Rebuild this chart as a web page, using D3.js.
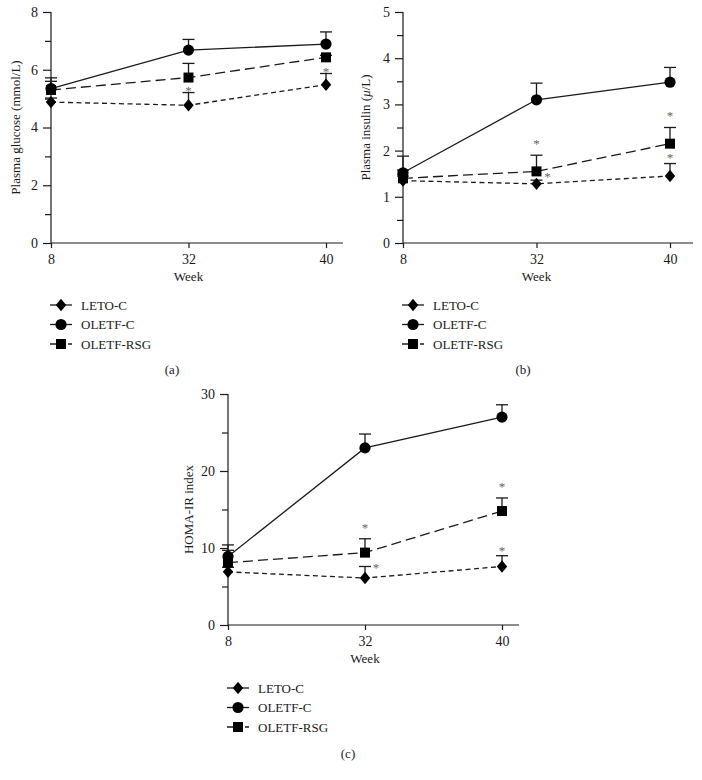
<!DOCTYPE html>
<html>
<head>
<meta charset="utf-8">
<script src="https://cdn.jsdelivr.net/npm/d3@7"></script>
<style>
  html, body { margin: 0; padding: 0; background: #fff; }
  svg { display: block; }
  text { font-family: "Liberation Serif", "Times New Roman", serif; fill: #1a1a1a; }
</style>
</head>
<body>
<svg id="chart" width="702" height="780"></svg>
<script>
// ---------------- DATA ----------------
const weeks = ["8", "32", "40"];
const seriesNames = ["LETO-C", "OLETF-C", "OLETF-RSG"];

// (a) Plasma glucose (mmol/L)
const glucoseLETO  = [4.88, 4.77, 5.48];
const glucoseOLETF = [5.35, 6.68, 6.89];
const glucoseRSG   = [5.30, 5.73, 6.43];
const glucoseLETOErr  = [0.14, 0.44, 0.39];
const glucoseOLETFErr = [0.37, 0.37, 0.42];
const glucoseRSGErr   = [0.30, 0.49, 0.07];
const glucoseStars = [
  { week: "32", value: 5.32, side: "above" },
  { week: "40", value: 5.99, side: "above" }
];

// (b) Plasma insulin (μ/L)
const insulinLETO  = [1.35, 1.28, 1.45];
const insulinOLETF = [1.52, 3.10, 3.48];
const insulinRSG   = [1.40, 1.55, 2.15];
const insulinLETOErr  = [0.10, 0.08, 0.27];
const insulinOLETFErr = [0.36, 0.36, 0.32];
const insulinRSGErr   = [0.18, 0.35, 0.35];
const insulinStars = [
  { week: "32", value: 2.19, side: "above" },
  { week: "32", value: 1.47, side: "right" },
  { week: "40", value: 2.79, side: "above" },
  { week: "40", value: 1.87, side: "above" }
];

// (c) HOMA-IR index
const homaLETO  = [6.9, 6.1, 7.6];
const homaOLETF = [8.9, 23.0, 27.0];
const homaRSG   = [8.1, 9.4, 14.8];
const homaLETOErr  = [0.6, 1.5, 1.4];
const homaOLETFErr = [1.5, 1.8, 1.6];
const homaRSGErr   = [1.6, 1.8, 1.7];
const homaStars = [
  { week: "32", value: 12.8, side: "above" },
  { week: "32", value: 7.6, side: "right" },
  { week: "40", value: 18.2, side: "above" },
  { week: "40", value: 9.9, side: "above" }
];

// y-axis ticks
const glucoseTicks = [0, 2, 4, 6, 8];
const glucoseMinor = [1, 3, 5, 7];
const insulinTicks = [0, 1, 2, 3, 4, 5];
const insulinMinor = [0.5, 1.5, 2.5, 3.5, 4.5];
const homaTicks = [0, 10, 20, 30];
const homaMinor = [5, 15, 25];

// ---------------- STYLE ----------------
const styles = {
  "LETO-C":    { dash: "5,3.5", shape: "diamond" },
  "OLETF-C":   { dash: null,    shape: "circle" },
  "OLETF-RSG": { dash: "10,5",  shape: "square" }
};

const svg = d3.select("#chart");
svg.append("rect").attr("width", 702).attr("height", 780).attr("fill", "#fff");

function markerPath(shape) {
  if (shape === "circle") return d3.symbol().type(d3.symbolCircle).size(Math.PI * 5.6 * 5.6)();
  if (shape === "square") return "M-5,-5H5V5H-5Z";
  return "M0,-6.2L5.2,0L0,6.2L-5.2,0Z";
}

function drawPanel(cfg) {
  const g = svg.append("g");
  const x = d3.scalePoint().domain(weeks).range([cfg.x0, cfg.x2]).padding(0);
  const y = d3.scaleLinear().domain([0, cfg.yMax]).range([cfg.yBottom, cfg.yTop]);

  // y axis minor ticks
  g.append("g").attr("transform", `translate(${cfg.x0},0)`)
    .call(d3.axisLeft(y).tickValues(cfg.minor).tickSize(6).tickFormat(""))
    .call(a => a.select(".domain").remove());
  // y axis major
  const ya = g.append("g").attr("transform", `translate(${cfg.x0},0)`)
    .call(d3.axisLeft(y).tickValues(cfg.ticks).tickFormat(d3.format("d")).tickSize(8).tickPadding(5).tickSizeOuter(0));
  ya.select(".domain").remove();
  ya.selectAll("text").style("font-size", "14px").style("font-family", '"Liberation Serif", serif');
  // y axis line
  g.append("line").attr("x1", cfg.x0).attr("x2", cfg.x0)
    .attr("y1", cfg.yTop).attr("y2", cfg.yBottom).attr("stroke", "#1a1a1a").attr("stroke-width", 1.2);

  // x axis
  const xa = g.append("g").attr("transform", `translate(0,${cfg.yBottom})`)
    .call(d3.axisBottom(x).tickSize(5).tickPadding(6).tickSizeOuter(0));
  xa.select(".domain").remove();
  xa.selectAll("text").style("font-size", "14px").style("font-family", '"Liberation Serif", serif');
  g.append("line").attr("x1", cfg.x0).attr("x2", cfg.xEnd)
    .attr("y1", cfg.yBottom).attr("y2", cfg.yBottom).attr("stroke", "#1a1a1a").attr("stroke-width", 1.2);
  g.selectAll(".tick line").attr("stroke", "#1a1a1a").attr("stroke-width", 1.2);

  // axis labels
  g.append("text").attr("x", (cfg.x0 + cfg.x2) / 2).attr("y", cfg.yBottom + 38)
    .attr("text-anchor", "middle").style("font-size", "13px").text("Week");
  const yl = g.append("text")
    .attr("transform", `translate(${cfg.ylabelX},${(cfg.yTop + cfg.yBottom) / 2}) rotate(-90)`)
    .attr("text-anchor", "middle").attr("dy", "0.35em").style("font-size", "13px");
  cfg.ylabel.forEach(p => {
    const t = yl.append("tspan").text(p.t);
    if (p.italic) t.style("font-style", "italic");
  });

  const line = d3.line().x((d, i) => x(weeks[i])).y(d => y(d));

  // lines
  cfg.series.forEach(s => {
    g.append("path").datum(s.values).attr("d", line)
      .attr("fill", "none").attr("stroke", "#1a1a1a").attr("stroke-width", 1.3)
      .attr("stroke-dasharray", styles[s.name].dash);
  });
  // error bars (upper only)
  cfg.series.forEach(s => {
    s.values.forEach((v, i) => {
      const cx = x(weeks[i]), top = y(v + s.err[i]);
      g.append("line").attr("x1", cx).attr("x2", cx).attr("y1", y(v)).attr("y2", top)
        .attr("stroke", "#1a1a1a").attr("stroke-width", 1.3);
      g.append("line").attr("x1", cx - 6).attr("x2", cx + 6).attr("y1", top).attr("y2", top)
        .attr("stroke", "#1a1a1a").attr("stroke-width", 1.3);
    });
  });
  // markers
  cfg.series.forEach(s => {
    s.values.forEach((v, i) => {
      g.append("path").attr("d", markerPath(styles[s.name].shape))
        .attr("transform", `translate(${x(weeks[i])},${y(v)})`).attr("fill", "#000");
    });
  });
  // significance stars
  cfg.stars.forEach(st => {
    const dx = st.side === "right" ? 11 : 0;
    g.append("text").attr("x", x(st.week) + dx).attr("y", y(st.value) + 5.8)
      .attr("text-anchor", "middle").style("font-size", "13px").style("fill", "#666").text("*");
  });

  // legend
  seriesNames.forEach((name, i) => {
    const ly = cfg.legendY + i * 19.5;
    g.append("line").attr("x1", cfg.legendX).attr("x2", cfg.legendX + 22)
      .attr("y1", ly).attr("y2", ly).attr("stroke", "#1a1a1a").attr("stroke-width", 1.3)
      .attr("stroke-dasharray", name === "OLETF-RSG" ? "6,3" : null);
    g.append("path").attr("d", markerPath(styles[name].shape))
      .attr("transform", `translate(${cfg.legendX + 11},${ly})`).attr("fill", "#000");
    g.append("text").attr("x", cfg.legendX + 31).attr("y", ly).attr("dy", "0.35em")
      .style("font-size", "13px").text(name);
  });
  g.append("text").attr("x", cfg.tagX).attr("y", cfg.tagY).attr("dy", "0.35em")
    .attr("text-anchor", "middle").style("font-size", "13px").text(cfg.tag);
}

drawPanel({
  x0: 51, x2: 326, xEnd: 343, yTop: 12, yBottom: 243, yMax: 8,
  ticks: glucoseTicks, minor: glucoseMinor, ylabelX: 15,
  ylabel: [{ t: "Plasma glucose (mmol/L)" }],
  series: [
    { name: "LETO-C", values: glucoseLETO, err: glucoseLETOErr },
    { name: "OLETF-RSG", values: glucoseRSG, err: glucoseRSGErr },
    { name: "OLETF-C", values: glucoseOLETF, err: glucoseOLETFErr }
  ],
  stars: glucoseStars, legendX: 50, legendY: 305, tag: "(a)", tagX: 172, tagY: 369
});

drawPanel({
  x0: 403, x2: 670, xEnd: 693, yTop: 12, yBottom: 243, yMax: 5,
  ticks: insulinTicks, minor: insulinMinor, ylabelX: 365,
  ylabel: [{ t: "Plasma insulin (" }, { t: "μ", italic: true }, { t: "/L)" }],
  series: [
    { name: "LETO-C", values: insulinLETO, err: insulinLETOErr },
    { name: "OLETF-RSG", values: insulinRSG, err: insulinRSGErr },
    { name: "OLETF-C", values: insulinOLETF, err: insulinOLETFErr }
  ],
  stars: insulinStars, legendX: 402, legendY: 305, tag: "(b)", tagX: 523, tagY: 369
});

drawPanel({
  x0: 228, x2: 502, xEnd: 519, yTop: 394, yBottom: 625, yMax: 30,
  ticks: homaTicks, minor: homaMinor, ylabelX: 188,
  ylabel: [{ t: "HOMA-IR index" }],
  series: [
    { name: "LETO-C", values: homaLETO, err: homaLETOErr },
    { name: "OLETF-RSG", values: homaRSG, err: homaRSGErr },
    { name: "OLETF-C", values: homaOLETF, err: homaOLETFErr }
  ],
  stars: homaStars, legendX: 227, legendY: 688, tag: "(c)", tagX: 348, tagY: 753
});
</script>
</body>
</html>
